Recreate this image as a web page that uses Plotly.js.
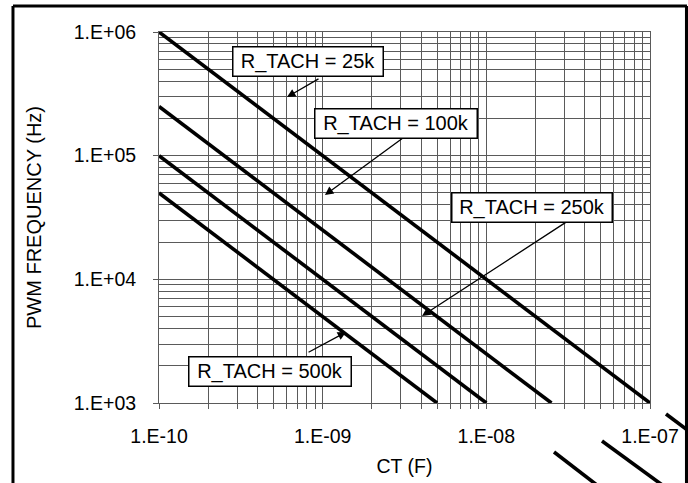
<!DOCTYPE html>
<html>
<head>
<meta charset="utf-8">
<script src="https://cdn.plot.ly/plotly-3.0.1.min.js"></script>
<style>html,body{margin:0;padding:0;background:#fff;}#chart{width:688px;height:483px;}</style>
</head>
<body>
<div id="chart"></div>
<script>
// ---- data ----
const seriesNames = ['R_TACH = 25k', 'R_TACH = 100k', 'R_TACH = 250k', 'R_TACH = 500k'];
const ct25k = [1e-10, 1e-7];
const freq25k = [1e6, 1e3];
const ct100k = [1e-10, 2.5e-8];
const freq100k = [2.5e5, 1e3];
const ct250k = [1e-10, 1e-8];
const freq250k = [1e5, 1e3];
const ct500k = [1e-10, 5e-9];
const freq500k = [5e4, 1e3];

const ctTicks = [1e-10, 1e-9, 1e-8, 1e-7];
const ctTickLabels = ['1.E-10', '1.E-09', '1.E-08', '1.E-07'];
const freqTicks = [1e3, 1e4, 1e5, 1e6];
const freqTickLabels = ['1.E+03', '1.E+04', '1.E+05', '1.E+06'];
const minorMult = [2, 3, 4, 5, 6, 7, 8, 9];

function minorVals(decades) {
  const out = [];
  decades.slice(0, -1).forEach(d => minorMult.forEach(m => out.push(d * m)));
  return out;
}

const FONT = 'Liberation Sans, Arial, Helvetica, sans-serif';
const lineStyle = {color: '#000', width: 3.6};

const xs = [ct25k, ct100k, ct250k, ct500k];
const ys = [freq25k, freq100k, freq250k, freq500k];
const traces = xs.map((x, i) => ({
  x: x, y: ys[i], name: seriesNames[i], type: 'scatter', mode: 'lines',
  line: lineStyle, showlegend: false, hoverinfo: 'skip'
}));

// label boxes (log10 positions) and arrows
const labelBoxes = [
  {text: seriesNames[0], x: -9.0896, y: 5.7615, w: 145},
  {text: seriesNames[1], x: -8.552, y: 5.260, w: 157},
  {text: seriesNames[2], x: -7.721, y: 4.581, w: 155},
  {text: seriesNames[3], x: -9.322, y: 3.255, w: 157}
];
const arrows = [
  {x: -9.218, y: 5.474, ax: 33, ay: -19},
  {x: -8.986, y: 4.682, ax: 89, ay: -65},
  {x: -8.393, y: 3.704, ax: 146, ay: -95},
  {x: -8.857, y: 3.574, ax: -39, ay: 21}
];

const annotations = [];
arrows.forEach(a => annotations.push({
  x: a.x, y: a.y, xref: 'x', yref: 'y', text: '', showarrow: true,
  ax: a.ax, ay: a.ay, arrowhead: 2, arrowsize: 1.3, arrowwidth: 1.3, arrowcolor: '#000', standoff: 0
}));
labelBoxes.forEach(b => annotations.push({
  x: b.x, y: b.y, xref: 'x', yref: 'y', text: b.text, showarrow: false,
  font: {family: FONT, size: 20, color: '#000'},
  bgcolor: '#fff', bordercolor: '#000', borderwidth: 1.5, borderpad: 2,
  width: b.w, height: 24, xanchor: 'center', yanchor: 'middle'
}));

const frame = {color: '#000', width: 3};
const shapes = [
  // stray segments from the neighbouring figure (page artefacts)
  {type: 'line', xref: 'paper', yref: 'paper', x0: 0.8045, y0: -0.132, x1: 0.9104, y1: -0.240, line: {color: '#000', width: 3.6}},
  {type: 'line', xref: 'paper', yref: 'paper', x0: 0.9022, y0: -0.1024, x1: 1.0305, y1: -0.2264, line: {color: '#000', width: 3.6}},
  {type: 'line', xref: 'paper', yref: 'paper', x0: 1.0326, y0: -0.0296, x1: 1.0815, y1: -0.0782, line: {color: '#000', width: 3.6}},
  // page frame
  {type: 'line', xref: 'paper', yref: 'paper', x0: -0.2974, y0: -0.3, x1: -0.2974, y1: 1.0701, line: frame},
  {type: 'line', xref: 'paper', yref: 'paper', x0: -0.2974, y0: 1.0701, x1: 1.0753, y1: 1.0701, line: frame},
  {type: 'line', xref: 'paper', yref: 'paper', x0: 1.0753, y0: 1.0701, x1: 1.0753, y1: -0.3, line: {color: '#000', width: 4}}
];

const gridColor = '#5a5a5a';
const layout = {
  width: 688, height: 483,
  margin: {l: 159, r: 38, t: 32, b: 80, pad: 0},
  paper_bgcolor: '#fff', plot_bgcolor: '#fff',
  font: {family: FONT, size: 19, color: '#000'},
  showlegend: false,
  xaxis: {
    type: 'log', range: [-10, -7], autorange: false,
    tickmode: 'array', tickvals: ctTicks, ticktext: ctTickLabels,
    ticks: 'outside', ticklen: 5, tickcolor: gridColor, tickwidth: 1,
    ticklabelstandoff: 11,
    showgrid: true, gridcolor: gridColor, gridwidth: 1,
    showline: true, linecolor: gridColor, linewidth: 1, mirror: true,
    zeroline: false,
    tickfont: {family: FONT, size: 19.5, color: '#000'},
    minor: {tickmode: 'array', tickvals: minorVals(ctTicks), ticks: 'outside', ticklen: 5,
            tickcolor: gridColor, showgrid: true, gridcolor: gridColor, gridwidth: 1},
    title: {text: 'CT (F)', font: {family: FONT, size: 19.5, color: '#000'}, standoff: 12},
    automargin: false
  },
  yaxis: {
    type: 'log', range: [3, 6], autorange: false,
    tickmode: 'array', tickvals: freqTicks, ticktext: freqTickLabels,
    ticks: 'outside', ticklen: 5, tickcolor: gridColor, tickwidth: 1,
    ticklabelstandoff: 13,
    showgrid: true, gridcolor: gridColor, gridwidth: 1,
    showline: true, linecolor: gridColor, linewidth: 1, mirror: true,
    zeroline: false,
    tickfont: {family: FONT, size: 19.5, color: '#000'},
    minor: {tickmode: 'array', tickvals: minorVals(freqTicks), ticks: '',
            showgrid: true, gridcolor: gridColor, gridwidth: 1},
    title: {text: 'PWM FREQUENCY (Hz)', font: {family: FONT, size: 20, color: '#000'}, standoff: 26},
    automargin: false
  },
  annotations: annotations,
  shapes: shapes
};

Plotly.newPlot('chart', traces, layout, {staticPlot: true, displayModeBar: false});
</script>
</body>
</html>
